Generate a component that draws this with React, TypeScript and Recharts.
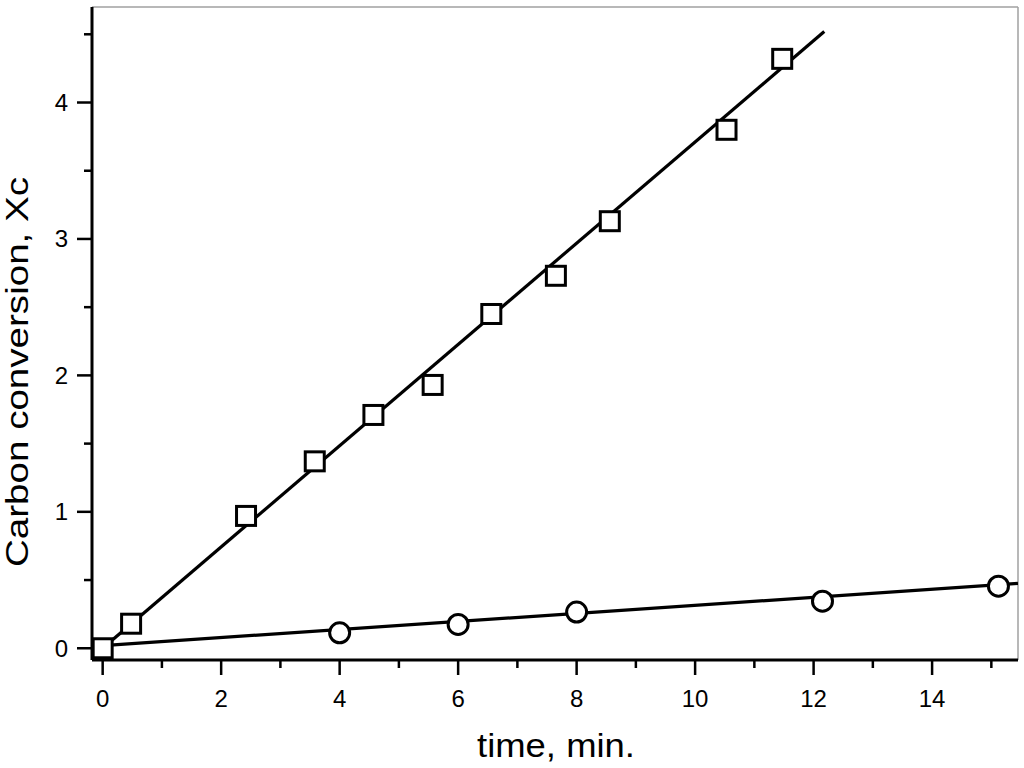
import React from 'react';
import { ScatterChart, Scatter, XAxis, YAxis, ReferenceLine } from 'recharts';

const squareX = [0, 0.48, 2.42, 3.58, 4.57, 5.57, 6.56, 7.65, 8.56, 10.53, 11.47];
const squareY = [0, 0.18, 0.97, 1.37, 1.71, 1.93, 2.45, 2.73, 3.13, 3.8, 4.32];
const circleX = [4, 6, 8, 12.15, 15.12];
const circleY = [0.113, 0.175, 0.265, 0.345, 0.455];
const squareFitX = [0, 12.18];
const squareFitY = [0, 4.52];
const circleFitX = [0, 15.45];
const circleFitY = [0.02, 0.475];
const xTicks = [0, 1, 2, 3, 4, 5, 6, 7, 8, 9, 10, 11, 12, 13, 14, 15];
const yTicks = [0, 0.5, 1, 1.5, 2, 2.5, 3, 3.5, 4, 4.5];
const xDomain: [number, number] = [-0.18, 15.45];
const yDomain: [number, number] = [-0.086, 4.7];

const zip = (xs: number[], ys: number[]) => xs.map((x, i) => ({ x, y: ys[i] }));
const squares = zip(squareX, squareY);
const circles = zip(circleX, circleY);
const squareFit = zip(squareFitX, squareFitY);
const circleFit = zip(circleFitX, circleFitY);

const FONT = '"Liberation Sans", Arial, Helvetica, sans-serif';

const SquareShape = (p: any) => (
  <rect x={p.cx - 9.5} y={p.cy - 9.5} width={19} height={19} fill="#fff" stroke="#000" strokeWidth={3} />
);
const CircleShape = (p: any) => (
  <circle cx={p.cx} cy={p.cy} r={10} fill="#fff" stroke="#000" strokeWidth={3} />
);
const NoShape = () => <g />;

const XTick = (p: any) => {
  const v = p.payload.value;
  const major = v % 2 === 0;
  return (
    <g>
      <line x1={p.x} x2={p.x} y1={p.y} y2={p.y + (major ? 15 : 8)} stroke="#000" strokeWidth={2.5} />
      {major && (
        <text x={p.x} y={p.y + 47} textAnchor="middle" fontFamily={FONT} fontSize={24} fill="#000">
          {v}
        </text>
      )}
    </g>
  );
};

const YTick = (p: any) => {
  const v = p.payload.value;
  const major = Number.isInteger(v);
  return (
    <g>
      <line x1={p.x - (major ? 15 : 8)} x2={p.x} y1={p.y} y2={p.y} stroke="#000" strokeWidth={2.5} />
      {major && (
        <text x={p.x - 24} y={p.y + 8.5} textAnchor="end" fontFamily={FONT} fontSize={24} fill="#000">
          {v}
        </text>
      )}
    </g>
  );
};

const XLabel = () => (
  <text x={556} y={757} textAnchor="middle" fontFamily={FONT} fontSize={34} fill="#000" textLength={158} lengthAdjust="spacingAndGlyphs">
    time, min.
  </text>
);

const YLabel = () => (
  <text x={28} y={372} transform="rotate(-90, 28, 372)" textAnchor="middle" fontFamily={FONT} fontSize={31} fill="#000" textLength={390} lengthAdjust="spacingAndGlyphs">
    Carbon conversion, Xc
  </text>
);

export default function App() {
  return (
    <div style={{ position: 'absolute', left: 0, top: 0, width: 1024, height: 768, background: '#fff' }}>
      <ScatterChart width={1024} height={768} margin={{ top: 7, right: 6, left: 12, bottom: 48 }}>
        <XAxis
          type="number"
          dataKey="x"
          domain={xDomain}
          ticks={xTicks}
          allowDataOverflow
          height={60}
          tickSize={0}
          tickMargin={0}
          tickLine={false}
          tick={XTick}
          axisLine={{ stroke: '#000', strokeWidth: 3 }}
          interval={0}
          label={{ content: XLabel }}
        />
        <YAxis
          type="number"
          dataKey="y"
          domain={yDomain}
          ticks={yTicks}
          allowDataOverflow
          width={80}
          tickSize={0}
          tickMargin={0}
          tickLine={false}
          tick={YTick}
          axisLine={{ stroke: '#000', strokeWidth: 3 }}
          interval={0}
          label={{ content: YLabel }}
        />
        <ReferenceLine y={yDomain[1]} stroke="#a0a0a0" strokeWidth={1.5} />
        <ReferenceLine x={xDomain[1]} stroke="#a0a0a0" strokeWidth={1.5} />
        <Scatter data={squareFit} line={{ stroke: '#000', strokeWidth: 3.2 }} lineType="joint" shape={NoShape} isAnimationActive={false} />
        <Scatter data={circleFit} line={{ stroke: '#000', strokeWidth: 3.2 }} lineType="joint" shape={NoShape} isAnimationActive={false} />
        <Scatter data={circles} shape={CircleShape} isAnimationActive={false} />
        <Scatter data={squares} shape={SquareShape} isAnimationActive={false} />
      </ScatterChart>
    </div>
  );
}
